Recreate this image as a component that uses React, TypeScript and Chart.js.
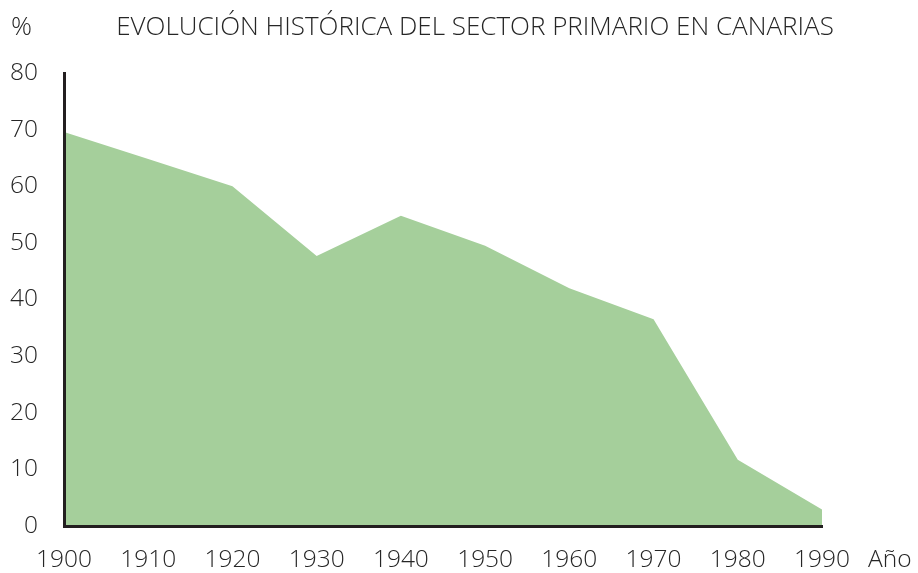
import React, { useEffect, useRef } from "react";
import { Chart, registerables } from "chart.js";

Chart.register(...registerables);

const years = ["1900", "1910", "1920", "1930", "1940", "1950", "1960", "1970", "1980", "1990"];
const primaryShare = [69.6, 64.8, 60, 47.7, 54.8, 49.5, 42, 36.5, 11.7, 2.9];
const titleText = "EVOLUCIÓN HISTÓRICA DEL SECTOR PRIMARIO EN CANARIAS";
const yUnitText = "%";
const xUnitText = "Año";

const FONT = "'Open Sans', 'Noto Sans', sans-serif";
const TEXT_COLOR = "#262626";

const textPlugin = {
  id: "extraTexts",
  afterDraw(chart: any) {
    const { ctx } = chart;
    ctx.save();
    ctx.fillStyle = TEXT_COLOR;
    ctx.font = `300 26px ${FONT}`;
    ctx.textBaseline = "middle";
    ctx.textAlign = "left";
    ctx.fillText(yUnitText, 11, 28);
    ctx.textAlign = "center";
    ctx.fillText(titleText, 475, 28);
    ctx.font = `300 24.5px ${FONT}`;
    ctx.textAlign = "left";
    ctx.fillText(xUnitText, 868, 560);
    ctx.restore();
  },
};

export default function App() {
  const ref = useRef<HTMLCanvasElement>(null);
  useEffect(() => {
    if (!ref.current) return;
    const chart = new Chart(ref.current, {
      type: "line",
      data: {
        labels: years,
        datasets: [
          {
            data: primaryShare,
            fill: "origin",
            backgroundColor: "#a5cf9b",
            borderWidth: 0,
            borderColor: "rgba(0,0,0,0)",
            pointRadius: 0,
            tension: 0,
          },
        ],
      },
      options: {
        animation: false,
        responsive: true,
        maintainAspectRatio: false,
        layout: { padding: { left: 0, right: 96, top: 73, bottom: 0 } },
        plugins: {
          legend: { display: false },
          tooltip: { enabled: false },
          title: { display: false },
        },
        scales: {
          x: {
            type: "category",
            offset: false,
            grid: { display: false, drawTicks: false },
            border: { display: true, color: "#231f20", width: 3, z: 1 },
            ticks: {
              color: TEXT_COLOR,
              font: { family: FONT, size: 24.5, weight: "300" as any },
              padding: 19,
              maxRotation: 0,
              autoSkip: false,
            },
            afterFit(scale: any) {
              scale.height = 47;
            },
          },
          y: {
            min: 0,
            max: 80,
            grid: { display: false, drawTicks: false },
            border: { display: true, color: "#231f20", width: 3, z: 1 },
            ticks: {
              stepSize: 10,
              color: TEXT_COLOR,
              font: { family: FONT, size: 24.5, weight: "300" as any },
              padding: 26,
            },
            afterFit(scale: any) {
              scale.width = 64;
            },
          },
        },
      },
      plugins: [textPlugin],
    });
    return () => chart.destroy();
  }, []);
  return (
    <div style={{ position: "fixed", left: 0, top: 0, width: 918, height: 573 }}>
      <canvas ref={ref} />
    </div>
  );
}
